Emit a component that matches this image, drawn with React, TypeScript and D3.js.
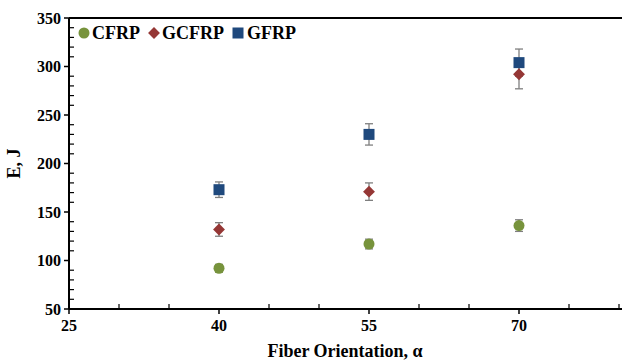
import React from 'react';
import * as d3 from 'd3';

const angles = [40, 55, 70];
const cfrp = [92, 117, 136];
const cfrpErr = [4, 5, 6];
const gcfrp = [132, 171, 292];
const gcfrpErr = [7, 9, 15];
const gfrp = [173, 230, 304];
const gfrpErr = [8, 11, 14];
const xMajor = [25, 40, 55, 70];
const yMajor = [50, 100, 150, 200, 250, 300, 350];

const series = [
  { name: 'CFRP', values: cfrp, err: cfrpErr, color: '#77933C', shape: 'circle' },
  { name: 'GCFRP', values: gcfrp, err: gcfrpErr, color: '#953735', shape: 'diamond' },
  { name: 'GFRP', values: gfrp, err: gfrpErr, color: '#1F497D', shape: 'square' },
];

const W = 622;
const H = 362;
const left = 69;
const top = 18;
const bottom = 309;

const txt = { fontFamily: "'Liberation Serif', 'DejaVu Serif', serif", fontWeight: 700 } as React.CSSProperties;

function Marker({ shape, color, x, y }: { shape: string; color: string; x: number; y: number }) {
  if (shape === 'circle') return <circle cx={x} cy={y} r={5.5} fill={color} />;
  if (shape === 'diamond') {
    return <path d={d3.symbol(d3.symbolDiamond2, 90)()!} transform={`translate(${x},${y})`} fill={color} />;
  }
  return <rect x={x - 5.5} y={y - 5.5} width={11} height={11} fill={color} />;
}

export default function App() {
  const x = d3.scaleLinear().domain([25, 80.5]).range([left, left + 555]);
  const y = d3.scaleLinear().domain([50, 350]).range([bottom, top]);
  const xMinor = d3.range(25, 81, 5).filter(v => !xMajor.includes(v));
  const yMinor = d3.range(50, 351, 10).filter(v => !yMajor.includes(v));

  return (
    <svg width={W} height={H} style={{ position: 'absolute', left: 0, top: 0, background: '#fff' }}>
      <line x1={left} x2={W} y1={top} y2={top} stroke="#000" strokeWidth={2} />
      <line x1={left} x2={W} y1={bottom} y2={bottom} stroke="#000" strokeWidth={2} />
      <line x1={left} x2={left} y1={top} y2={bottom} stroke="#000" strokeWidth={2} />

      {yMajor.map(v => (
        <g key={'ym' + v}>
          <line x1={left - 5} x2={left} y1={y(v)} y2={y(v)} stroke="#000" strokeWidth={1.5} />
          <text x={left - 8} y={y(v)} dy="0.35em" textAnchor="end" style={txt} fontSize={16}>{v}</text>
        </g>
      ))}
      {yMinor.map(v => (
        <line key={'yn' + v} x1={left} x2={left + 5} y1={y(v)} y2={y(v)} stroke="#000" strokeWidth={1.2} />
      ))}
      {xMajor.map(v => (
        <g key={'xm' + v}>
          <line x1={x(v)} x2={x(v)} y1={bottom} y2={bottom + 5} stroke="#000" strokeWidth={1.5} />
          <text x={x(v)} y={bottom + 22} textAnchor="middle" style={txt} fontSize={16}>{v}</text>
        </g>
      ))}
      {xMinor.map(v => (
        <line key={'xn' + v} x1={x(v)} x2={x(v)} y1={bottom - 5} y2={bottom} stroke="#000" strokeWidth={1.2} />
      ))}

      {series.map(s => (
        <g key={s.name}>
          {angles.map((a, i) => {
            const cx = x(a);
            const hi = y(s.values[i] + s.err[i]);
            const lo = y(s.values[i] - s.err[i]);
            return (
              <g key={a} stroke="#7f7f7f" strokeWidth={1.3}>
                <line x1={cx} x2={cx} y1={hi} y2={lo} />
                <line x1={cx - 4} x2={cx + 4} y1={hi} y2={hi} />
                <line x1={cx - 4} x2={cx + 4} y1={lo} y2={lo} />
              </g>
            );
          })}
        </g>
      ))}
      {series.map(s => (
        <g key={s.name + 'm'}>
          {angles.map((a, i) => (
            <Marker key={a} shape={s.shape} color={s.color} x={x(a)} y={y(s.values[i])} />
          ))}
        </g>
      ))}

      {[
        { s: series[0], mx: 84, tx: 92 },
        { s: series[1], mx: 154, tx: 162 },
        { s: series[2], mx: 238, tx: 247 },
      ].map(({ s, mx, tx }) => (
        <g key={'lg' + s.name}>
          <Marker shape={s.shape} color={s.color} x={mx} y={33} />
          <text x={tx} y={33} dy="0.35em" style={txt} fontSize={18}>{s.name}</text>
        </g>
      ))}

      <text x={345} y={357} textAnchor="middle" style={txt} fontSize={18}>Fiber Orientation, α</text>
      <text transform={`translate(20,${(top + bottom) / 2}) rotate(-90)`} textAnchor="middle" style={txt} fontSize={18}>E, J</text>
    </svg>
  );
}
